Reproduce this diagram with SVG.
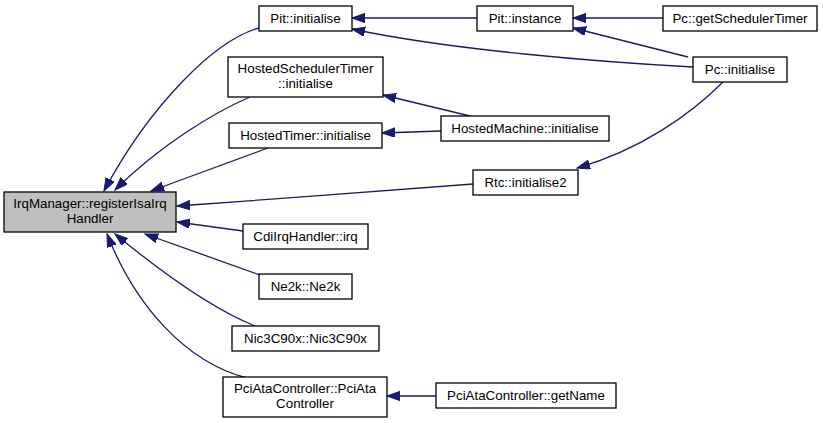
<svg xmlns="http://www.w3.org/2000/svg" width="823" height="423" viewBox="0 0 823 423">
<defs>
<style>
.n rect{fill:#ffffff;stroke:#000000;stroke-width:1.3}
.n.root rect{fill:#bfbfbf}
.n text{font-family:"Liberation Sans",Arial,sans-serif;font-size:13.33px;text-anchor:middle;fill:#000000}
.e path{fill:none;stroke:#191970;stroke-width:1.3;marker-end:url(#ah)}
</style>
<marker id="ah" markerUnits="userSpaceOnUse" markerWidth="14" markerHeight="10" refX="13" refY="4.65" orient="auto">
<path d="M0,0 L13,4.65 L0,9.3 z" fill="#191970" stroke="#191970" stroke-width="1"/>
</marker>
</defs>
<rect x="0" y="0" width="823" height="423" fill="#ffffff"/>
<g id="edges" class="e">
<path d="M259,28 C215,40 150,105 104,191"/>
<path d="M250,97 C215,112 160,145 115,190"/>
<path d="M268,148 L151,191"/>
<path d="M473,184 C400,190 260,200 177,206"/>
<path d="M243,231 L177,222"/>
<path d="M260,275 L145,234"/>
<path d="M255,326 C215,310 165,275 115,234"/>
<path d="M247,378 C185,362 135,305 107,234"/>
<path d="M477,18 L352,18"/>
<path d="M693,67 C600,62 450,50 352,29"/>
<path d="M663,18 L573,18"/>
<path d="M688,57 L573,28"/>
<path d="M470,116 L383,95"/>
<path d="M441,131 L382,133"/>
<path d="M723,82 C690,115 640,150 577,168"/>
<path d="M436,396 L387,396"/>
</g>
<g id="irqmanager" class="n root"><rect x="4" y="192" width="172" height="40"/><text x="90" y="208">IrqManager::registerIsaIrq</text><text x="90" y="223">Handler</text></g>
<g id="pit_initialise" class="n"><rect x="259" y="6" width="93" height="25"/><text x="305.5" y="23">Pit::initialise</text></g>
<g id="hostedschedulertimer_initialise" class="n"><rect x="228" y="57" width="155" height="40"/><text x="305.5" y="73">HostedSchedulerTimer</text><text x="305.5" y="88">::initialise</text></g>
<g id="hostedtimer_initialise" class="n"><rect x="229" y="123" width="153" height="25"/><text x="305.5" y="140">HostedTimer::initialise</text></g>
<g id="rtc_initialise2" class="n"><rect x="473" y="170" width="105" height="25"/><text x="525.5" y="187">Rtc::initialise2</text></g>
<g id="cdiirqhandler_irq" class="n"><rect x="243" y="224" width="125" height="25"/><text x="305.5" y="241">CdiIrqHandler::irq</text></g>
<g id="ne2k_ne2k" class="n"><rect x="259" y="274" width="93" height="25"/><text x="305.5" y="291">Ne2k::Ne2k</text></g>
<g id="nic3c90x" class="n"><rect x="232" y="326" width="147" height="25"/><text x="305.5" y="343">Nic3C90x::Nic3C90x</text></g>
<g id="pciatacontroller_ctor" class="n"><rect x="223" y="377" width="164" height="40"/><text x="305" y="393">PciAtaController::PciAta</text><text x="305" y="408">Controller</text></g>
<g id="pciatacontroller_getname" class="n"><rect x="436" y="383" width="180" height="25"/><text x="526" y="400">PciAtaController::getName</text></g>
<g id="pit_instance" class="n"><rect x="477" y="6" width="96" height="25"/><text x="525" y="23">Pit::instance</text></g>
<g id="pc_getschedulertimer" class="n"><rect x="663" y="6" width="154" height="25"/><text x="740" y="23">Pc::getSchedulerTimer</text></g>
<g id="pc_initialise" class="n"><rect x="693" y="57" width="94" height="25"/><text x="740" y="74">Pc::initialise</text></g>
<g id="hostedmachine_initialise" class="n"><rect x="441" y="116" width="168" height="25"/><text x="525" y="133">HostedMachine::initialise</text></g>
</svg>
